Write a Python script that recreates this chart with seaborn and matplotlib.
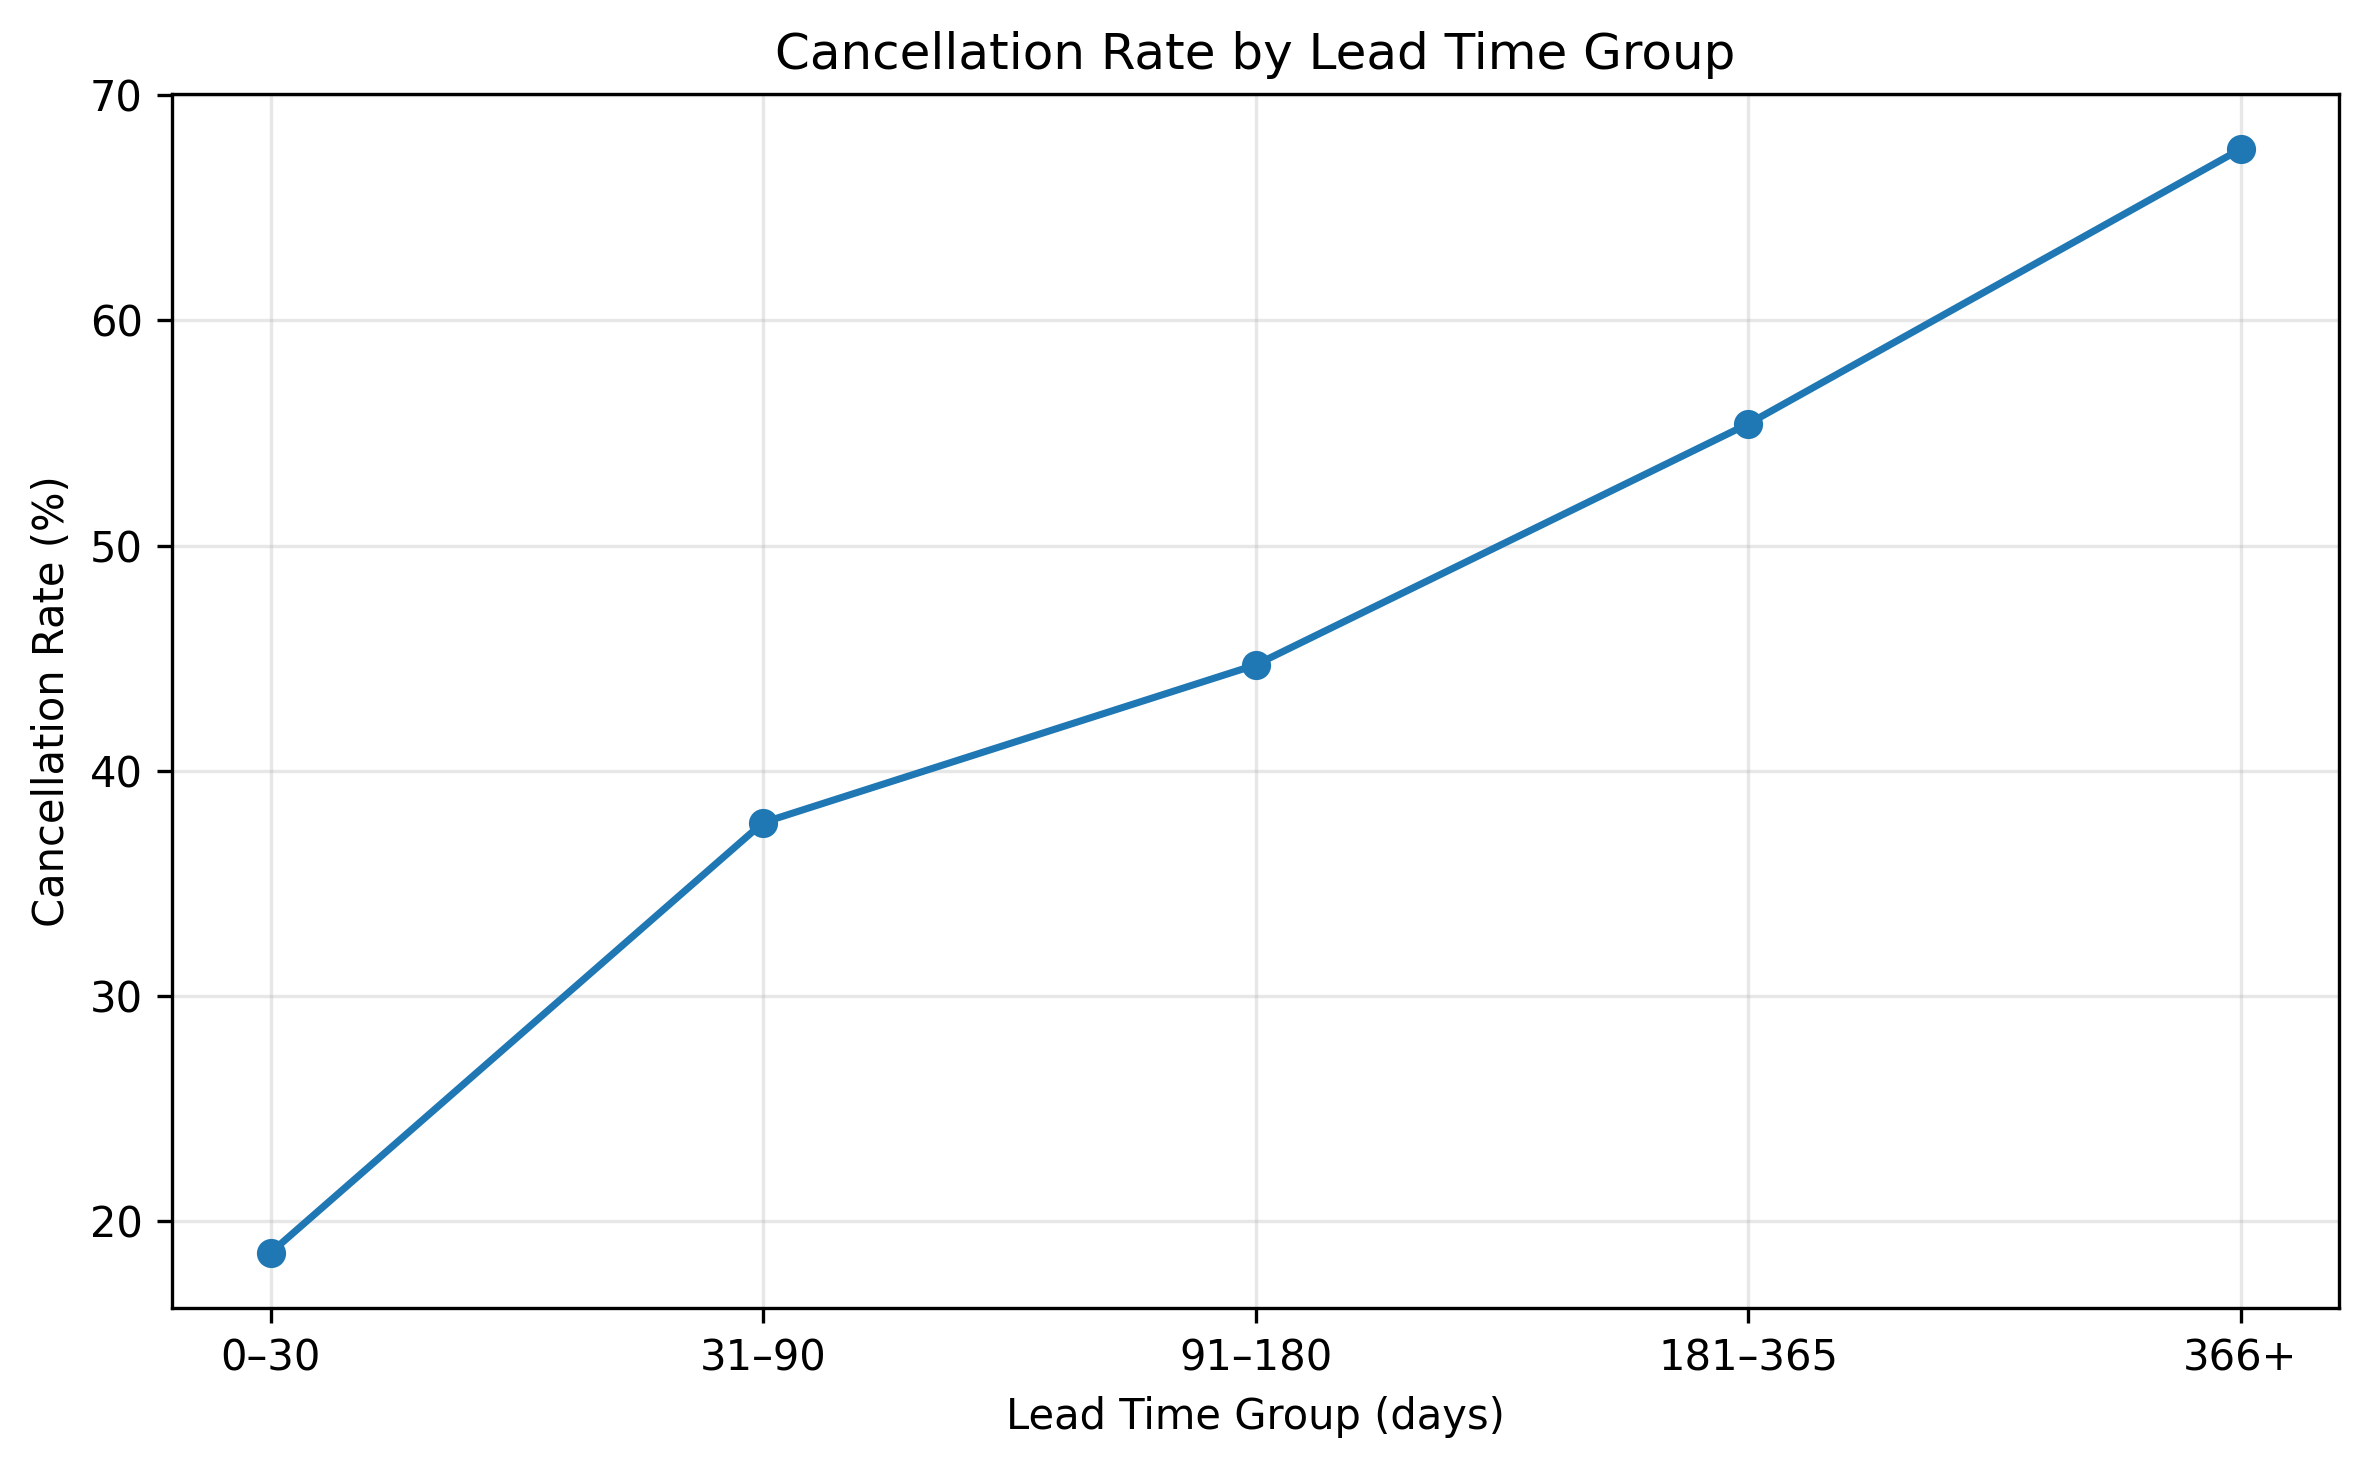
import matplotlib
matplotlib.use("Agg")
import matplotlib.pyplot as plt
import seaborn as sns
import pandas as pd

groups = ["0–30", "31–90", "91–180", "181–365", "366+"]
cancel_rate = [18.6, 37.7, 44.7, 55.4, 67.6]

df = pd.DataFrame({"group": groups, "rate": cancel_rate})

fig = plt.figure(figsize=(2369 / 300, 1468 / 300), dpi=300)
ax = fig.add_axes([172 / 2369, 1 - 1308 / 1468, (2339 - 172) / 2369, (1308 - 94) / 1468])

sns.lineplot(data=df, x="group", y="rate", sort=False, marker="o", color="#1f77b4",
             linewidth=1.7, markersize=6, markeredgecolor="#1f77b4", markeredgewidth=1, ax=ax)

ax.set_title("Cancellation Rate by Lead Time Group", fontsize=12)
ax.set_xlabel("Lead Time Group (days)", fontsize=10)
ax.set_ylabel("Cancellation Rate (%)", fontsize=10)
ax.grid(True, alpha=0.3)
ax.set_axisbelow(True)

fig.savefig("out.png", dpi=300)
